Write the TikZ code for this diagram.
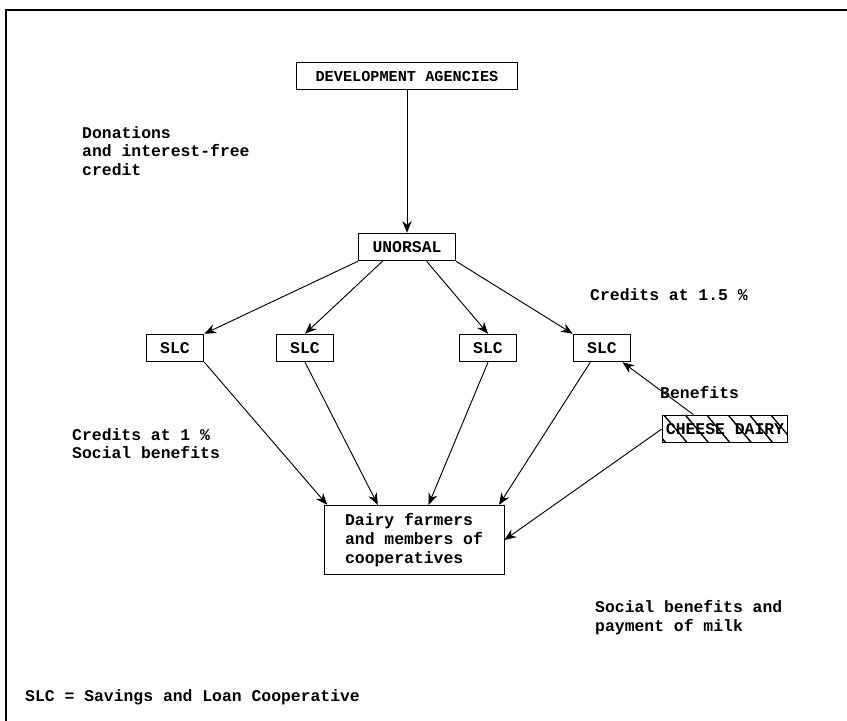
\documentclass[tikz,border=0pt]{standalone}
\usepackage{fontspec}
\setmainfont{Liberation Mono}
\usetikzlibrary{arrows.meta,calc,patterns.meta}

\begin{document}
\begin{tikzpicture}[
    every node/.style={font=\fontsize{14}{16}\selectfont\bfseries},
    box/.style={draw, thick, inner xsep=12pt, inner ysep=7pt},
    caption/.style={align=left, inner sep=0pt},
    flow/.style={thick, -{Stealth[length=10pt,width=8pt]}}
]
% Set the page size
\useasboundingbox (0,0) rectangle (25.41,-21.63);

% Draw the frame (top and left only)
\draw[very thick] (0.18,-21.63) -- (0.18,-0.3) -- (25.41,-0.3);

% Boxes
\node[box, inner xsep=16pt, font=\fontsize{13}{15}\selectfont\bfseries] (agencies) at (12.21,-2.28) {DEVELOPMENT AGENCIES};
\node[box] (unorsal) at (12.21,-7.41) {UNORSAL};
\node[box] (slcA) at (5.25,-10.44) {SLC};
\node[box] (slcB) at (9.15,-10.44) {SLC};
\node[box] (slcC) at (14.64,-10.44) {SLC};
\node[box] (slcD) at (18.06,-10.44) {SLC};
\node[box, pattern={Lines[angle=-50,distance=14pt,line width=1.2pt]}, inner xsep=3pt] (dairy) at (21.75,-12.87) {CHEESE DAIRY};
\node[box, align=left, inner xsep=18pt] (farmers) at (12.42,-16.2) {Dairy farmers\\and members of\\cooperatives};

% Texts
\node[caption, anchor=north west] (donations) at (2.46,-3.78) {Donations\\and interest-free\\credit};
\node[caption, anchor=west] (credhigh) at (17.7,-8.85) {Credits at 1.5 \%};
\node[caption, anchor=west] (benefits) at (19.8,-11.79) {Benefits};
\node[caption, anchor=north west] (credlow) at (2.16,-12.84) {Credits at 1 \%\\Social benefits};
\node[caption, anchor=north west] (payment) at (17.85,-18.0) {Social benefits and\\payment of milk};
\node[caption, anchor=west] (legend) at (0.75,-20.91) {SLC = Savings and Loan Cooperative};

% Connectors
\draw[flow] (agencies) -- (unorsal);
\draw[flow] (unorsal.south west) -- (slcA.north east);
\draw[flow] ($(unorsal.south west)!0.25!(unorsal.south east)$) -- (slcB.north);
\draw[flow] ($(unorsal.south west)!0.7!(unorsal.south east)$) -- (slcC.north);
\draw[flow] (unorsal.south east) -- (slcD.north west);
\draw[flow] (slcA.south east) -- ($(farmers.north west)!0.02!(farmers.north east)$);
\draw[flow] (slcB.south) -- ($(farmers.north west)!0.3!(farmers.north east)$);
\draw[flow] (slcC.south) -- ($(farmers.north west)!0.58!(farmers.north east)$);
\draw[flow] ($(slcD.south west)!0.3!(slcD.south east)$) -- ($(farmers.north west)!0.97!(farmers.north east)$);
\draw[flow] ($(dairy.north west)!0.25!(dairy.north east)$) -- ($(slcD.south west)!0.85!(slcD.south east)$);
\draw[flow] (dairy.west) -- (farmers.east);
\end{tikzpicture}
\end{document}
